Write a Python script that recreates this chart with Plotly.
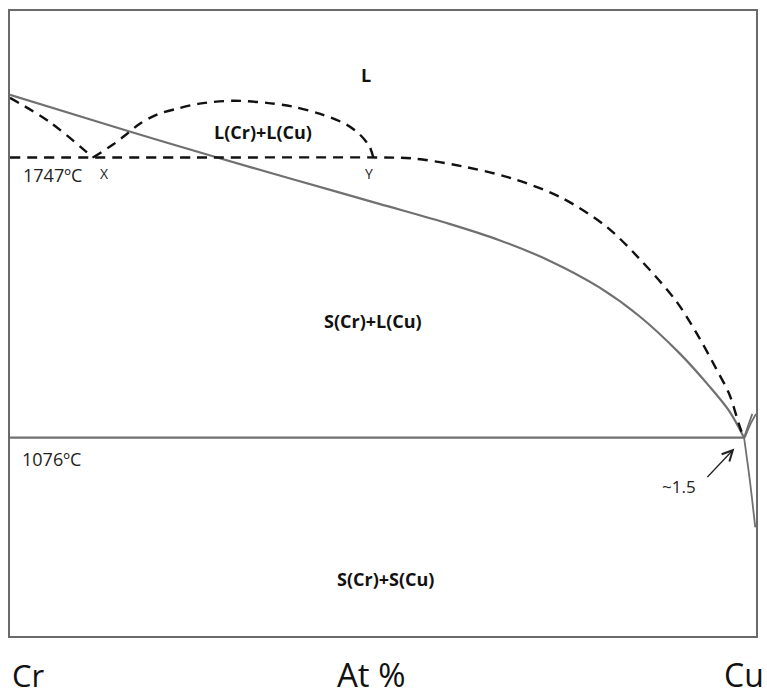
import plotly.graph_objects as go

# ---- data (x = at% Cu, y = temperature in °C) ----
# stable liquidus of Cr (solid grey)
liq_x = [0, 15.7, 27.2, 37.9, 49.5, 58.9, 65.6, 72.3, 79.0, 84.3, 89.7, 93.7, 96.4, 98.4]
liq_t = [1897, 1811, 1750, 1695, 1636, 1588, 1549, 1500, 1436, 1368, 1279, 1200, 1140, 1076]

# eutectic horizontal (solid)
eut_x = [0, 98.4]
eut_t = [1076, 1076]

# Cu-side boundaries (solid)
cu_liq_x = [98.4, 99.5]
cu_liq_t = [1076, 1133]
cu_sol_x = [98.5, 99.3, 100]
cu_sol_t = [1076, 1110, 1133]
solvus_x = [98.4, 99.2, 99.9]
solvus_t = [1076, 970, 861]

# metastable (dashed) lines
left_x = [0, 5.4, 11.1]
left_t = [1890, 1831, 1747]

dome_x = [11.1, 13.8, 15.7, 17.4, 19.7, 22.4, 25.4, 29.9, 34.4, 37.9, 41.5, 45.1, 46.9, 48.2, 48.7]
dome_t = [1747, 1778, 1804, 1828, 1850, 1864, 1876, 1883, 1878, 1869, 1852, 1826, 1802, 1773, 1747]

mono_x = [0, 25, 49.5, 53.9, 60.6, 67.3, 74.0, 79.9, 84.3, 89.3, 92.4, 94.6, 96.4, 97.7, 98.3]
mono_t = [1747, 1747, 1747, 1745, 1726, 1697, 1650, 1582, 1506, 1403, 1315, 1243, 1181, 1109, 1078]

# text labels
phase_labels = ["L", "L(Cr)+L(Cu)", "S(Cr)+L(Cu)", "S(Cr)+S(Cu)"]
phase_x = [47.7, 33.9, 48.7, 50.3]
phase_t = [1945, 1809, 1355, 737]

SOLID = "#707070"
DASH = "#111111"

fig = go.Figure()

def add(x, y, color, width, dash="solid", shape="spline", smoothing=0.9):
    fig.add_trace(go.Scatter(x=x, y=y, mode="lines",
                             line=dict(color=color, width=width, dash=dash, shape=shape, smoothing=smoothing),
                             hoverinfo="skip", showlegend=False))

add(liq_x, liq_t, SOLID, 2.2)
add(eut_x, eut_t, SOLID, 2.2, shape="linear")
add(cu_liq_x, cu_liq_t, SOLID, 1.8, shape="linear")
add(cu_sol_x, cu_sol_t, SOLID, 1.8)
add(solvus_x, solvus_t, SOLID, 1.8)
add(left_x, left_t, DASH, 2.4, dash="10px,7px")
add(dome_x, dome_t, DASH, 2.4, dash="10px,7px")
add(mono_x, mono_t, DASH, 2.4, dash="10px,7px")

FONT = "Open Sans"
ann = []
for txt, x, y in zip(phase_labels, phase_x, phase_t):
    ann.append(dict(x=x, y=y, text="<b>%s</b>" % txt, showarrow=False,
                    font=dict(family=FONT, size=18, color="#111")))

ann += [
    dict(x=1.5, y=1704, text="1747ºC", xanchor="left", showarrow=False,
         font=dict(family=FONT, size=18, color="#222")),
    dict(x=1.3, y=1026, text="1076ºC", xanchor="left", showarrow=False,
         font=dict(family=FONT, size=18, color="#222")),
    dict(x=12.6, y=1709, text="X", showarrow=False, font=dict(family=FONT, size=14, color="#222")),
    dict(x=48.1, y=1709, text="Y", showarrow=False, font=dict(family=FONT, size=14, color="#222")),
    dict(x=89.7, y=959, text="~1.5", showarrow=False, font=dict(family=FONT, size=17, color="#222")),
    dict(x=97.1, y=1050, ax=93.3, ay=978, axref="x", ayref="y", text="", showarrow=True,
         arrowhead=5, arrowsize=1.6, arrowwidth=1.3, arrowcolor="#222"),
    dict(x=0.0, y=-0.062, xref="paper", yref="paper", text="Cr", xanchor="left", yanchor="middle",
         showarrow=False, font=dict(family=FONT, size=31, color="#111")),
    dict(x=0.484, y=-0.062, xref="paper", yref="paper", text="At %", xanchor="center", yanchor="middle",
         showarrow=False, font=dict(family=FONT, size=33, color="#111")),
    dict(x=1.014, y=-0.062, xref="paper", yref="paper", text="Cu", xanchor="right", yanchor="middle",
         showarrow=False, font=dict(family=FONT, size=32, color="#111")),
]

fig.update_layout(
    width=767, height=697,
    margin=dict(l=10, r=10, t=9, b=61),
    paper_bgcolor="white", plot_bgcolor="white",
    annotations=ann,
    xaxis=dict(range=[0, 100], showgrid=False, zeroline=False, showticklabels=False, ticks="",
               showline=True, mirror=True, linecolor="#6a6a6a", linewidth=2),
    yaxis=dict(range=[600.8, 2098], showgrid=False, zeroline=False, showticklabels=False, ticks="",
               showline=True, mirror=True, linecolor="#6a6a6a", linewidth=2),
)

fig.write_html("out.html")
